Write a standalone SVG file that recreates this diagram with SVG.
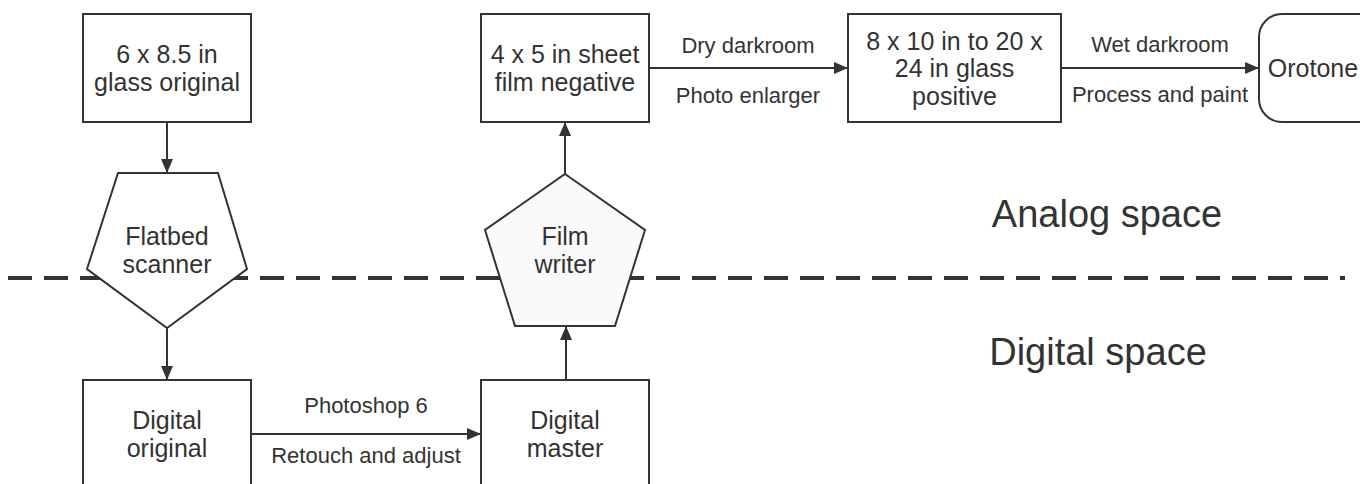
<svg xmlns="http://www.w3.org/2000/svg" width="1360" height="484" viewBox="0 0 1360 484">
<style>
  .box{fill:#ffffff;stroke:#333333;stroke-width:2}
  .pent{fill:#ffffff;stroke:#333333;stroke-width:2;stroke-linejoin:miter}
  .pent2{fill:#fafafa;stroke:#333333;stroke-width:2}
  .t{font-family:"Liberation Sans",Arial,sans-serif;font-size:25px;fill:#333333;text-anchor:middle}
  .l{font-family:"Liberation Sans",Arial,sans-serif;font-size:22px;fill:#333333;text-anchor:middle}
  .s{font-family:"Liberation Sans",Arial,sans-serif;font-size:38px;fill:#333333;text-anchor:middle}
  .c{stroke:#333333;stroke-width:2;fill:none;marker-end:url(#ah)}
</style>
<defs>
  <marker id="ah" viewBox="0 0 14 12" refX="14" refY="6" markerWidth="14" markerHeight="12" markerUnits="userSpaceOnUse" orient="auto">
    <path d="M0,0 L14,6 L0,12 Z" fill="#333333"/>
  </marker>
</defs>
<rect width="1360" height="484" fill="#ffffff"/>
<g id="divider">
  <line x1="8" y1="278" x2="1345" y2="278" stroke="#333333" stroke-width="4" stroke-dasharray="24 12"/>
</g>
<g id="labels-space">
  <text class="s" x="1107" y="227">Analog space</text>
  <text class="s" x="1098" y="365">Digital space</text>
</g>
<g id="connectors">
  <line class="c" x1="167" y1="122" x2="167" y2="173"/>
  <line class="c" x1="167" y1="328" x2="167" y2="380"/>
  <line class="c" x1="251" y1="434" x2="481" y2="434"/>
  <line class="c" x1="566" y1="380" x2="566" y2="326"/>
  <line class="c" x1="565" y1="174" x2="565" y2="122"/>
  <line class="c" x1="649" y1="68" x2="848" y2="68"/>
  <line class="c" x1="1061" y1="68" x2="1259" y2="68"/>
  <text class="l" x="366" y="413">Photoshop 6</text>
  <text class="l" x="366" y="463">Retouch and adjust</text>
  <text class="l" x="748" y="53">Dry darkroom</text>
  <text class="l" x="748" y="103">Photo enlarger</text>
  <text class="l" x="1160" y="52">Wet darkroom</text>
  <text class="l" x="1160" y="102">Process and paint</text>
</g>
<g id="glass-original">
  <rect class="box" x="83" y="14" width="168" height="108"/>
  <text class="t" x="167" y="63">6 x 8.5 in</text>
  <text class="t" x="167" y="91">glass original</text>
</g>
<g id="flatbed-scanner">
  <polygon class="pent" points="118,173 218,173 247,269 167,328 87,269"/>
  <text class="t" x="167" y="245">Flatbed</text>
  <text class="t" x="167" y="273">scanner</text>
</g>
<g id="digital-original">
  <rect class="box" x="83" y="380" width="168" height="108"/>
  <text class="t" x="167" y="429">Digital</text>
  <text class="t" x="167" y="457">original</text>
</g>
<g id="digital-master">
  <rect class="box" x="481" y="380" width="168" height="108"/>
  <text class="t" x="565" y="429">Digital</text>
  <text class="t" x="565" y="457">master</text>
</g>
<g id="film-writer">
  <polygon class="pent2" points="565,174 645,230 615,326 515,326 485,230"/>
  <text class="t" x="565" y="245">Film</text>
  <text class="t" x="565" y="273">writer</text>
</g>
<g id="sheet-film-negative">
  <rect class="box" x="481" y="14" width="168" height="108"/>
  <text class="t" x="565" y="63">4 x 5 in sheet</text>
  <text class="t" x="565" y="91">film negative</text>
</g>
<g id="glass-positive">
  <rect class="box" x="848" y="14" width="213" height="108"/>
  <text class="t" x="954.5" y="50">8 x 10 in to 20 x</text>
  <text class="t" x="954.5" y="77">24 in glass</text>
  <text class="t" x="954.5" y="105">positive</text>
</g>
<g id="orotone">
  <rect class="box" x="1259" y="14" width="168" height="108" rx="23" ry="23"/>
  <text class="t" x="1313" y="77">Orotone</text>
</g>
</svg>
